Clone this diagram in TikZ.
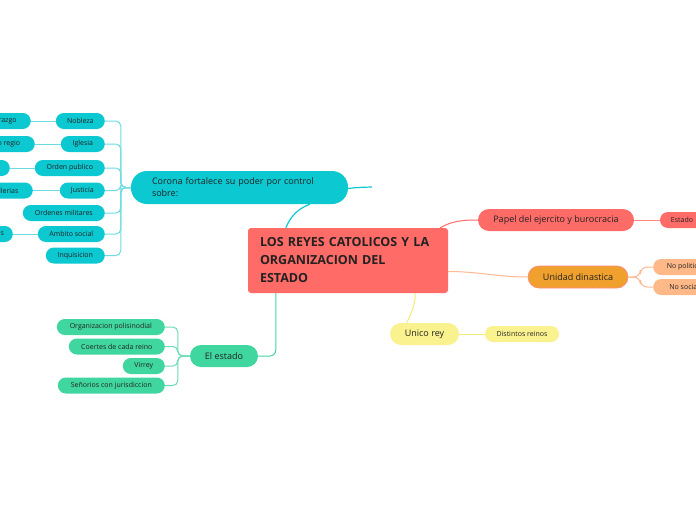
\documentclass[tikz,border=0pt]{standalone}
\usepackage{fontspec}
\setmainfont{Open Sans}
\usetikzlibrary{calc}
\definecolor{cyanN}{HTML}{0CC8D1}
\definecolor{cyanL}{HTML}{6CDCE2}
\definecolor{redN}{HTML}{FF6B66}
\definecolor{redL}{HTML}{FF8A85}
\definecolor{greenN}{HTML}{40D6A0}
\definecolor{greenL}{HTML}{6ADDB5}
\definecolor{orangeN}{HTML}{F0A02C}
\definecolor{peachN}{HTML}{FFB888}
\definecolor{peachL}{HTML}{FFB890}
\definecolor{yellowN}{HTML}{F9F28E}
\definecolor{yellowL}{HTML}{F3EB7A}
\definecolor{txt}{HTML}{222222}
\begin{document}
\begin{tikzpicture}[x=1pt,y=-1pt,
  every node/.style={text=txt, inner sep=0pt},
  small/.style={rounded corners=8pt, minimum height=16pt, font=\fontsize{7}{8}\selectfont},
  mid/.style={rounded corners=11pt, minimum height=22pt, font=\fontsize{9}{11}\selectfont},
  cyanbox/.style={small, fill=cyanN},
  greenbox/.style={small, fill=greenN},
  cyanlink/.style={draw=cyanL, line width=1pt},
  greenlink/.style={draw=greenL, line width=1pt}
]
\fill[white] (0,0) rectangle (696,520);
\useasboundingbox (0,0) rectangle (696,520);

% central
\node[fill=redN, rounded corners=3pt, minimum width=200pt, minimum height=65pt,
      text width=176pt, align=left, font=\bfseries\fontsize{12.5}{18}\selectfont]
      (cen) at (348,260.5) {LOS REYES CATOLICOS Y LA\\ORGANIZACION DEL\\ESTADO};

% corona
\node[fill=cyanN, rounded corners=16pt, minimum width=217pt, minimum height=33pt,
      text width=175pt, align=left, font=\fontsize{9}{12}\selectfont]
      (cor) at (239.5,187.5) {Corona fortalece su poder por control\\sobre:};
\coordinate (stub) at (372,187);

% corona children
\node[cyanbox, anchor=east, minimum width=49pt] (nob) at (105,121) {Nobleza};
\node[cyanbox, anchor=east, minimum width=44pt] (igl) at (105,144) {Iglesia};
\node[cyanbox, anchor=east, minimum width=70pt] (ord) at (105,168) {Orden publico};
\node[cyanbox, anchor=east, minimum width=45pt] (jus) at (105,190.5) {Justicia};
\node[cyanbox, anchor=east, minimum width=82pt] (orm) at (105,213) {Ordenes militares};
\node[cyanbox, anchor=east, minimum width=67pt] (amb) at (105,234) {Ambito social};
\node[cyanbox, anchor=east, minimum width=59pt] (inq) at (105,255.5) {Inquisicion};

% grandchildren (cut by left edge)
\node[cyanbox, anchor=east, minimum width=60pt] (lid) at (31,121) {Liderazgo};
\node[cyanbox, anchor=east, minimum width=80pt] (pat) at (35,144) {Patronato regio};
\node[cyanbox, anchor=east, minimum width=80pt] (sha) at (10,168) {Santa Hermandad};
\node[cyanbox, anchor=east, minimum width=70pt] (cha) at (33,190.5) {Chancillerias};
\node[cyanbox, anchor=east, minimum width=60pt] (cog) at (13,234) {Corregidores};

% right side
\node[mid, fill=redN, minimum width=156pt] (pap) at (556,220) {Papel del ejercito y burocracia};
\node[small, fill=redN, minimum width=44pt] (estd) at (682,220) {Estado};
\node[mid, fill=orangeN, draw=redL, line width=0.7pt, minimum width=100pt] (uni) at (578,277) {Unidad dinastica};
\node[small, fill=peachN, anchor=west, minimum width=62pt] (npo) at (653,267) {No politica};
\node[small, fill=peachN, anchor=west, minimum width=62pt] (nso) at (653,287) {No social};
\node[mid, fill=yellowN, minimum width=69pt] (ur) at (424.5,334) {Unico rey};
\node[small, fill=yellowN, minimum width=74pt] (dr) at (522,334) {Distintos reinos};

% el estado
\node[mid, fill=greenN, minimum width=68pt] (est) at (224,356) {El estado};
\node[greenbox, anchor=east, minimum width=108pt] (org) at (165,327) {Organizacion polisinodial};
\node[greenbox, anchor=east, minimum width=96pt] (coe) at (165,346.5) {Coertes de cada reino};
\node[greenbox, anchor=east, minimum width=42pt] (vir) at (165,366) {Virrey};
\node[greenbox, anchor=east, minimum width=107pt] (sen) at (165,385.5) {Señorios con jurisdiccion};

% connectors: corona
\draw[draw=cyanN, line width=1.2pt] ($(cen.north west)+(38,0)$) .. controls +(6,-14) and +(-10,4) .. ($(cor.south west)+(179,0)$);
\draw[draw=cyanN, line width=1.2pt] ($(cor.east)+(-3,1.5)$) .. controls +(10,-1.5) .. (stub);
\foreach \c in {nob,igl,ord,jus,orm,amb,inq}
  \draw[cyanlink, rounded corners=5pt] (cor.west) -- ++(-10,0) |- (\c.east);
\draw[cyanlink] (lid.east) -- (nob.west);
\draw[cyanlink] (pat.east) -- (igl.west);
\draw[cyanlink] (sha.east) -- (ord.west);
\draw[cyanlink] (cha.east) -- (jus.west);
\draw[cyanlink] (cog.east) -- (amb.west);

% connectors: right
\draw[draw=redN, line width=1pt] ($(cen.north east)+(-8,0)$) .. controls +(12,-7) and +(-15,0) .. (pap.west);
\draw[draw=redL, line width=1pt] (pap.east) -- (estd.west);
\draw[draw=peachL, line width=1pt] ($(cen.east)+(0,11)$) .. controls +(30,0) and +(-30,0) .. (uni.west);
\draw[draw=peachL, line width=1pt, rounded corners=7pt] (uni.east) -- ++(12,0) |- (npo.west);
\draw[draw=peachL, line width=1pt, rounded corners=7pt] (uni.east) -- ++(12,0) |- (nso.west);
\draw[draw=yellowL, line width=1pt] ($(cen.south east)+(-33,0)$) .. controls +(0,14) and +(4,-10) .. ($(ur.north west)+(17,0)$);
\draw[draw=yellowL, line width=1pt] (ur.east) -- (dr.west);

% connectors: el estado
\draw[draw=greenN, line width=1pt, rounded corners=6pt] ($(cen.south west)+(28,0)$) |- (est.east);
\foreach \c in {org,coe,vir,sen}
  \draw[greenlink, rounded corners=5pt] (est.west) -- ++(-12,0) |- (\c.east);
\end{tikzpicture}
\end{document}
